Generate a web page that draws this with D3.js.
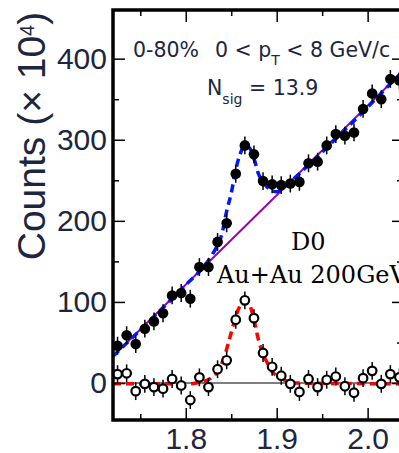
<!DOCTYPE html>
<html>
<head>
<meta charset="utf-8">
<script src="https://cdn.jsdelivr.net/npm/d3@7"></script>
<style>
    body { margin: 0; background: #fff; }
    svg { display: block; }
</style>
</head>
<body>
<div id="chart"></div>
<script>
// invariant mass bin centres (GeV/c^2)
const massBins = [1.725, 1.735, 1.745, 1.755, 1.765, 1.775, 1.785, 1.795, 1.805, 1.815,
    1.825, 1.835, 1.845, 1.855, 1.865, 1.875, 1.885, 1.895, 1.905, 1.915,
    1.925, 1.935, 1.945, 1.955, 1.965, 1.975, 1.985, 1.995, 2.005, 2.015,
    2.025, 2.035];

// unlike-sign counts (x 10^4), filled markers
const unlikeSign = [46, 59, 48, 67, 76, 86, 108, 111, 104, 143,
    143, 174, 197, 258, 293, 282, 249, 245, 244, 246,
    248, 271, 273, 293, 307, 305, 309, 338, 357, 350,
    375, 373];

// background subtracted signal, open markers
const signal = [11, 12, -10, -1, -5, -7, 5, -3, -21, 7,
    -5, 17, 28, 78, 102, 80, 37, 20, 9, -1,
    -11, 5, -5, 4, 8, -4, -12, 6, 15, -1,
    11, 7];

const errHalf = 11;

// fit curves
const bgFit = [[1.72, 33], [2.04, 386]];
const totalFit = [[1.72, 33], [1.80, 121], [1.82, 144], [1.83, 160], [1.84, 185], [1.845, 212],
    [1.85, 234], [1.855, 263], [1.86, 283], [1.865, 292], [1.87, 290], [1.875, 277],
    [1.88, 258], [1.885, 248], [1.89, 241], [1.895, 237], [1.90, 236], [1.905, 238],
    [1.91, 243], [2.04, 386]];
const peakFit = [[1.72, -1], [1.80, -1], [1.82, 2], [1.83, 8], [1.835, 14], [1.84, 25],
    [1.845, 42], [1.85, 62], [1.855, 82], [1.86, 96], [1.865, 102], [1.87, 97],
    [1.875, 78], [1.88, 53], [1.885, 36], [1.89, 24], [1.895, 14], [1.90, 9],
    [1.91, 3], [1.92, 0], [2.04, -1]];

const xMajor = [1.8, 1.9, 2.0];
const xMinor = [1.75, 1.85, 1.95];
const yMajor = [0, 100, 200, 300, 400];
const yMinor = [50, 150, 250, 350];

const svgWidth = 399;
const svgHeight = 453;

const svg = d3.select('#chart')
    .append('svg')
    .attr('width', svgWidth)
    .attr('height', svgHeight);

const frame = {l: 113, r: 404, t: 10, b: 420};

const x = d3.scaleLinear().domain([1.72, 2.04]).range([frame.l, frame.r]);
const y = d3.scaleLinear().domain([-45.6, 460]).range([frame.b, frame.t]);

const tickFont = '"Liberation Sans", Arial, sans-serif';

// zero line
svg.append('line')
    .attr('x1', x(1.72)).attr('x2', x(2.04))
    .attr('y1', y(0)).attr('y2', y(0))
    .attr('stroke', '#000')
    .attr('stroke-width', 1.2);

// fit lines
const line = d3.line()
    .x(d => x(d[0]))
    .y(d => y(d[1]))
    .curve(d3.curveMonotoneX);

svg.append('path')
    .datum(bgFit)
    .attr('d', line)
    .attr('fill', 'none')
    .attr('stroke', '#9a00a8')
    .attr('stroke-width', 2);

svg.append('path')
    .datum(totalFit)
    .attr('d', line)
    .attr('fill', 'none')
    .attr('stroke', '#0018ff')
    .attr('stroke-width', 3.5)
    .attr('stroke-dasharray', '8,5');

svg.append('path')
    .datum(peakFit)
    .attr('d', line)
    .attr('fill', 'none')
    .attr('stroke', '#ff0000')
    .attr('stroke-width', 3.5)
    .attr('stroke-dasharray', '8,5');

// error bars + markers
const filled = massBins.map((m, i) => ({m, v: unlikeSign[i]}));
const open = massBins.map((m, i) => ({m, v: signal[i]}));

const gFilled = svg.append('g');
gFilled.selectAll('line.ey')
    .data(filled)
    .join('line')
    .attr('class', 'ey')
    .attr('x1', d => x(d.m)).attr('x2', d => x(d.m))
    .attr('y1', d => y(d.v - errHalf)).attr('y2', d => y(d.v + errHalf))
    .attr('stroke', '#000').attr('stroke-width', 1.5);
gFilled.selectAll('line.ex')
    .data(filled)
    .join('line')
    .attr('class', 'ex')
    .attr('x1', d => x(d.m - 0.005)).attr('x2', d => x(d.m + 0.005))
    .attr('y1', d => y(d.v)).attr('y2', d => y(d.v))
    .attr('stroke', '#000').attr('stroke-width', 1.5);
gFilled.selectAll('circle')
    .data(filled)
    .join('circle')
    .attr('cx', d => x(d.m))
    .attr('cy', d => y(d.v))
    .attr('r', 5.3)
    .attr('fill', '#000');

const gOpen = svg.append('g');
gOpen.selectAll('line')
    .data(open)
    .join('line')
    .attr('x1', d => x(d.m)).attr('x2', d => x(d.m))
    .attr('y1', d => y(d.v - errHalf)).attr('y2', d => y(d.v + errHalf))
    .attr('stroke', '#000').attr('stroke-width', 1.5);
gOpen.selectAll('circle')
    .data(open)
    .join('circle')
    .attr('cx', d => x(d.m))
    .attr('cy', d => y(d.v))
    .attr('r', 4.3)
    .attr('fill', '#fff')
    .attr('stroke', '#000')
    .attr('stroke-width', 2.2);

// axes, ticks pointing inward
function styleAxis(g) {
    g.select('.domain').remove();
    g.selectAll('.tick line').attr('stroke', '#000').attr('stroke-width', 1.5);
    g.selectAll('.tick text')
        .style('font-family', tickFont)
        .style('font-size', '30px')
        .attr('fill', '#1c2640');
}

svg.append('g')
    .attr('transform', `translate(0,${frame.b})`)
    .call(d3.axisBottom(x).tickValues(xMajor).tickSize(-12).tickPadding(8).tickFormat(d3.format('.1f')))
    .call(styleAxis);
svg.append('g')
    .attr('transform', `translate(0,${frame.b})`)
    .call(d3.axisBottom(x).tickValues(xMinor).tickSize(-6).tickFormat(''))
    .call(styleAxis);
svg.append('g')
    .attr('transform', `translate(0,${frame.t})`)
    .call(d3.axisTop(x).tickValues(xMajor).tickSize(-12).tickFormat(''))
    .call(styleAxis);
svg.append('g')
    .attr('transform', `translate(0,${frame.t})`)
    .call(d3.axisTop(x).tickValues(xMinor).tickSize(-6).tickFormat(''))
    .call(styleAxis);

svg.append('g')
    .attr('transform', `translate(${frame.l},0)`)
    .call(d3.axisLeft(y).tickValues(yMajor).tickSize(-12).tickPadding(6))
    .call(styleAxis);
svg.append('g')
    .attr('transform', `translate(${frame.l},0)`)
    .call(d3.axisLeft(y).tickValues(yMinor).tickSize(-6).tickFormat(''))
    .call(styleAxis);
svg.append('g')
    .attr('transform', `translate(${frame.r},0)`)
    .call(d3.axisRight(y).tickValues(yMajor).tickSize(-12).tickFormat(''))
    .call(styleAxis);
svg.append('g')
    .attr('transform', `translate(${frame.r},0)`)
    .call(d3.axisRight(y).tickValues(yMinor).tickSize(-7).tickFormat(''))
    .call(styleAxis);

// frame
svg.append('rect')
    .attr('x', frame.l).attr('y', frame.t)
    .attr('width', frame.r - frame.l)
    .attr('height', frame.b - frame.t)
    .attr('fill', 'none')
    .attr('stroke', '#000')
    .attr('stroke-width', 3.5);

// y axis title
const yTitle = svg.append('text')
    .attr('transform', 'translate(45,136) rotate(-90)')
    .attr('text-anchor', 'middle')
    .style('font-family', tickFont)
    .style('font-size', '39px')
    .attr('fill', '#1c2640');
yTitle.append('tspan').text('Counts (\u00d7 10');
yTitle.append('tspan').attr('dy', -11).style('font-size', '20px').text('4');
yTitle.append('tspan').attr('dy', 11).text(')');

// annotations
const sansFont = '"DejaVu Sans", sans-serif';

const line1 = svg.append('text')
    .attr('y', 57)
    .style('font-family', sansFont)
    .style('font-size', '20.5px')
    .attr('fill', '#1c2640');
line1.append('tspan').attr('x', 133).text('0-80%');
line1.append('tspan').attr('x', 215).text('0 < p');
line1.append('tspan').attr('dy', 8).style('font-size', '14px').text('T');
line1.append('tspan').attr('dy', -8).text(' < 8 GeV/c');

const line2 = svg.append('text')
    .attr('x', 207)
    .attr('y', 95)
    .style('font-family', sansFont)
    .style('font-size', '20.5px')
    .attr('fill', '#1c2640');
line2.append('tspan').text('N');
line2.append('tspan').attr('dy', 9).style('font-size', '14px').text('sig');
line2.append('tspan').attr('dy', -9).text(' = 13.9');

svg.append('text')
    .attr('x', 291)
    .attr('y', 250)
    .style('font-family', '"DejaVu Serif", serif')
    .style('font-size', '24px')
    .attr('fill', '#000')
    .text('D0');

svg.append('text')
    .attr('x', 217)
    .attr('y', 283)
    .style('font-family', '"DejaVu Serif", serif')
    .style('font-size', '24px')
    .attr('fill', '#000')
    .text('Au+Au 200GeV');
</script>
</body>
</html>
